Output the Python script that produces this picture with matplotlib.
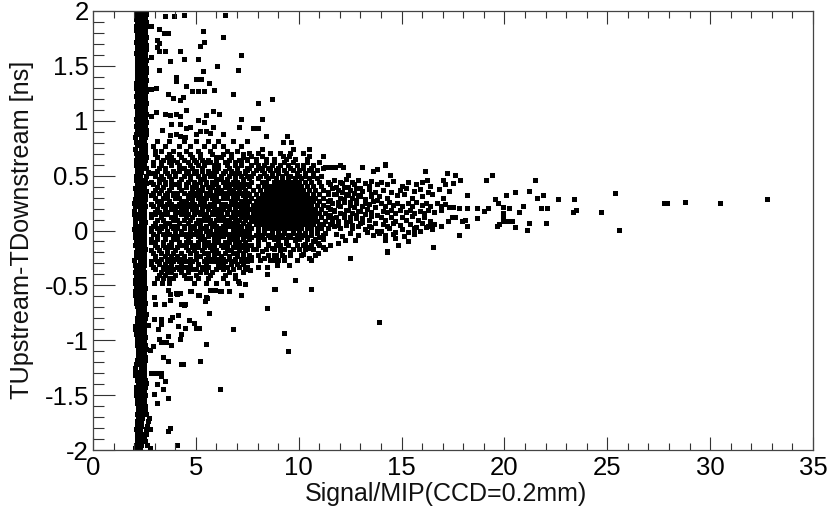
import matplotlib
matplotlib.use("Agg")
import matplotlib.pyplot as plt
from matplotlib.ticker import MultipleLocator

plt.rcParams['font.family'] = ['Liberation Sans', 'DejaVu Sans']

# bande verticale vers x = 2.3
band_y = [-1.98,-1.95,-1.92,-1.88,-1.85,-1.81,-1.78,-1.74,-1.71,-1.67,-1.64,-1.60,-1.57,-1.53,-1.50,-1.46,-1.43,-1.39,-1.36,-1.32,
          -1.29,-1.25,-1.22,-1.18,-1.15,-1.11,-1.08,-1.04,-1.01,-0.97,-0.94,-0.90,-0.87,-0.83,-0.80,-0.76,-0.73,-0.69,-0.66,-0.62,
          -0.59,-0.55,-0.52,-0.48,-0.45,-0.41,-0.38,-0.34,-0.31,-0.27,-0.24,-0.20,-0.17,-0.13,-0.10,-0.06,-0.03,0.01,0.04,0.08,
          0.11,0.15,0.18,0.22,0.25,0.29,0.32,0.36,0.39,0.43,0.46,0.50,0.53,0.57,0.60,0.64,0.67,0.71,0.74,0.78,
          0.81,0.85,0.88,0.92,0.95,0.99,1.02,1.06,1.09,1.13,1.16,1.20,1.23,1.27,1.30,1.34,1.37,1.41,1.44,1.48,
          1.51,1.55,1.58,1.62,1.65,1.69,1.72,1.76,1.79,1.83,1.86,1.90,1.93,1.97,1.99]
band_left = [2.05,2.10,2.12,2.14,2.12,2.10,2.12,2.16,2.18,2.16,2.18,2.20,2.16,2.12,2.08,2.08,2.10,2.18,2.14,2.06,
             2.04,2.06,2.10,2.16,2.18,2.20,2.18,2.14,2.12,2.16,2.08,2.04,2.06,2.12,2.16,2.20,2.18,2.12,2.10,2.08,
             2.04,2.06,2.10,2.06,2.02,2.08,2.06,2.10,2.04,2.00,2.08,2.10,2.12,2.06,2.08,2.04,2.02,2.00,2.02,2.06,
             2.04,1.98,2.00,2.02,1.98,2.06,2.08,2.10,2.06,2.12,2.08,2.10,2.14,2.12,2.08,2.10,2.12,2.08,2.06,2.12,
             2.08,2.06,2.10,2.14,2.10,2.12,2.08,2.14,2.12,2.10,2.14,2.12,2.10,2.14,2.10,2.08,2.14,2.12,2.16,2.14,
             2.12,2.14,2.12,2.08,2.12,2.14,2.10,2.14,2.12,2.08,2.10,2.14,2.10,2.12,2.08]
band_mid = [2.30,2.34,2.30,2.35,2.32,2.30,2.34,2.32,2.36,2.34,2.30,2.35,2.32,2.30,2.33,2.30,2.34,2.36,2.32,2.30,
            2.28,2.32,2.30,2.34,2.36,2.33,2.36,2.32,2.30,2.34,2.32,2.30,2.28,2.32,2.34,2.36,2.32,2.30,2.34,2.32,
            2.28,2.30,2.32,2.30,2.28,2.32,2.30,2.26,2.30,2.28,2.32,2.30,2.34,2.30,2.32,2.28,2.30,2.26,2.28,2.32,
            2.30,2.26,2.28,2.30,2.26,2.30,2.32,2.34,2.30,2.34,2.32,2.30,2.34,2.32,2.30,2.32,2.34,2.30,2.32,2.34,
            2.30,2.32,2.34,2.36,2.32,2.34,2.30,2.34,2.32,2.30,2.34,2.32,2.30,2.34,2.32,2.30,2.34,2.32,2.36,2.34,
            2.32,2.34,2.30,2.32,2.34,2.36,2.32,2.34,2.32,2.30,2.34,2.36,2.32,2.34,2.30]
band_right = [2.75,2.62,2.52,2.50,2.56,2.60,2.62,2.68,2.72,2.60,2.54,2.52,2.50,2.48,2.52,2.50,2.54,2.58,2.52,2.50,
              2.48,2.50,2.48,2.52,2.54,2.50,2.56,2.52,2.50,2.54,2.50,2.48,2.46,2.50,2.52,2.56,2.50,2.48,2.52,2.50,
              2.48,2.50,2.52,2.48,2.46,2.50,2.48,2.44,2.48,2.46,2.50,2.48,2.52,2.48,2.50,2.46,2.48,2.46,2.48,2.52,
              2.50,2.46,2.50,2.52,2.48,2.52,2.54,2.56,2.50,2.56,2.52,2.60,2.68,2.56,2.50,2.54,2.58,2.52,2.54,2.52,
              2.50,2.52,2.56,2.60,2.54,2.56,2.52,2.56,2.54,2.52,2.56,2.54,2.52,2.56,2.54,2.52,2.56,2.54,2.58,2.56,
              2.54,2.56,2.52,2.54,2.56,2.58,2.54,2.56,2.54,2.52,2.56,2.58,2.54,2.58,2.52]

# points isoles en haut (y > 0.85)
top_x = [3.52,3.94,4.42,6.42,2.80,3.21,3.44,3.65,5.33,6.34,3.13,3.21,5.40,5.20,3.11,3.21,3.48,4.21,7.21,2.80,3.73,4.42,5.12,6.03,
         3.21,5.33,7.03,4.02,4.02,5.02,5.23,5.64,4.51,2.59,2.84,3.08,4.83,5.12,5.41,5.90,3.65,3.89,4.21,4.38,6.81,8.72,8.02,4.51,
         5.83,3.04,2.84,3.52,3.73,4.02,4.21,5.51,6.13,7.21,8.21,5.12,5.41,3.81,4.21,3.35,4.53,4.73,5.83,7.11,7.76,8.03,3.73,4.02,
         4.21,4.46,5.02,5.19,5.51,5.70,6.30,8.41,9.41,9.22,9.61]
top_y = [1.95,1.95,1.96,1.96,1.86,1.84,1.80,1.80,1.82,1.76,1.74,1.71,1.72,1.68,1.67,1.64,1.64,1.64,1.60,1.58,1.54,1.56,1.56,1.50,
         1.46,1.45,1.46,1.40,1.36,1.38,1.38,1.34,1.32,1.29,1.29,1.30,1.27,1.27,1.27,1.28,1.24,1.21,1.19,1.22,1.24,1.20,1.16,1.10,
         1.09,1.08,1.04,1.06,1.05,1.06,1.04,1.05,1.06,1.02,1.02,1.01,0.99,0.97,0.97,0.92,0.93,0.94,0.94,0.94,0.93,0.93,0.87,0.88,
         0.86,0.85,0.88,0.91,0.91,0.89,0.88,0.865,0.865,0.805,0.805]

# points isoles en bas (y < -0.5)
low_x = [13.9,9.3,9.5,6.8,6.15,8.44,8.8,4.1,3.73,3.65,2.76,3.65,3.11,2.95,3.4,3.11,3.48,3.32,2.84,3.0,3.16,3.32,4.28,4.38,5.19,3.65,
         3.4,5.51,3.81,3.57,3.32,3.21,2.92,2.76,4.21,4.3,3.65,3.16,5.02,5.14,4.89,4.67,4.46,4.13,3.32,3.32,3.73,3.86,2.95,2.67,4.13,
         5.64,4.46,4.3,3.44,3.0,2.95,3.73,3.73,3.65,4.21,4.02,5.51,5.43,5.14,4.73,5.67,5.83,6.19,6.6,7.21,10.61,8.83,7.19,6.62,6.2,
         5.77,5.93,5.52,5.44,5.12,4.74,4.42,4.06,7.39]
low_y = [-0.83,-0.93,-1.10,-0.90,-1.44,-0.71,-0.53,-1.95,-1.80,-1.83,-1.81,-1.53,-1.57,-1.49,-1.44,-1.40,-1.37,-1.33,-1.30,-1.30,-1.30,-1.30,-1.22,-1.22,-1.19,-1.19,
         -1.15,-1.03,-1.04,-1.02,-1.02,-0.99,-1.05,-1.09,-0.99,-0.94,-0.96,-0.90,-0.89,-0.89,-0.84,-0.82,-0.89,-0.87,-0.81,-0.85,-0.82,-0.79,-0.81,-0.86,-0.77,
         -0.75,-0.67,-0.67,-0.67,-0.67,-0.61,-0.63,-0.58,-0.54,-0.57,-0.57,-0.61,-0.64,-0.59,-0.55,-0.54,-0.54,-0.55,-0.55,-0.59,-0.53,-0.53,-0.59,-0.55,-0.55,
         -0.54,-0.54,-0.615,-0.645,-0.59,-0.55,-0.68,-0.575,-0.49]

# queue a droite
tail_x = [14.2,14.44,16.14,17.22,17.61,17.84,17.0,16.22,19.1,19.38,21.49,18.2,20.08,20.51,21.21,21.89,21.6,22.62,23.38,25.39,19.53,19.69,19.95,20.24,20.92,20.69,
          21.79,22.09,18.68,18.2,17.81,19.22,19.0,19.91,19.91,18.68,23.32,23.48,24.68,25.59,27.76,27.89,28.78,30.47,32.77,19.62,19.72,19.95,20.14,20.37,20.51,21.08,
          21.21,22.0,17.81,16.51,14.2,14.68,14.83,14.31,15.3,15.6,18.2,18.08,17.27,17.43,17.6,17.92,
          14.0,14.3,14.6,15.0,15.3,15.7,16.0,16.4,17.1,17.5,14.1,14.5,14.9,15.2,15.6,15.9,16.3,16.8,17.3,13.9,14.3,14.8,15.1,15.5,16.0,16.5,17.0,
          14.0,14.2,14.4,14.6,14.8,15.0,15.3,15.5,15.7,16.0,16.2,16.4,16.7,16.9,17.1,17.3,17.5,14.1,14.3,14.5,14.7,14.9,15.2,15.4,15.6,15.9,16.1,16.3,16.6,16.9,
          14.0,14.2,14.5,14.7,15.0,15.2,15.5,15.8,16.1,16.4,14.1,14.3,14.6,14.9,15.4,15.7,16.0,16.3,16.6,16.9,14.0,14.4,14.7,15.0,15.3,15.6,15.9,16.2,16.5,14.2,14.6,15.1,15.6,16.3,16.5]
tail_y = [0.607,0.51,0.54,0.525,0.51,0.464,0.464,0.464,0.464,0.51,0.464,0.327,0.327,0.35,0.36,0.327,0.30,0.288,0.288,0.345,0.288,0.25,0.215,0.206,0.22,0.166,
          0.206,0.206,0.206,0.206,0.206,0.206,0.18,0.16,0.136,0.11,0.17,0.185,0.166,0.005,0.248,0.248,0.263,0.248,0.288,0.04,0.06,0.09,0.09,0.084,0.03,0.005,
          0.07,0.07,-0.037,-0.15,-0.09,-0.07,-0.135,-0.19,-0.10,-0.01,0.045,0.10,0.084,0.124,0.124,0.09,
          0.44,0.42,0.45,0.41,0.44,0.42,0.44,0.41,0.42,0.43,0.37,0.35,0.37,0.39,0.36,0.38,0.35,0.38,0.36,0.31,0.30,0.32,0.33,0.30,0.31,0.33,0.30,
          0.25,0.22,0.26,0.23,0.25,0.22,0.25,0.22,0.26,0.23,0.25,0.22,0.25,0.22,0.24,0.21,0.21,0.18,0.17,0.19,0.16,0.19,0.17,0.19,0.16,0.18,0.16,0.19,0.17,0.19,
          0.12,0.10,0.12,0.09,0.12,0.10,0.13,0.10,0.12,0.09,0.06,0.04,0.07,0.05,0.06,0.03,0.07,0.04,0.06,0.04,0.00,0.02,-0.01,0.01,-0.01,0.02,0.00,0.03,0.01,-0.04,-0.03,-0.05,-0.03,0.04,0.04]

# zone a gauche, x de 2.7 a 7.5, lignes de bas en haut
left_rows_y = [-0.48,-0.43,-0.38,-0.33,-0.28,-0.23,-0.18,-0.13,-0.08,-0.03,0.02,0.07,0.12,0.17,0.22,0.27,0.32,0.37,0.42,0.47,0.52,0.57,0.62,0.67,0.72,0.77,0.82]
left_rows_x = [[2.95,3.35,3.7,4.9,5.5,6.0,6.5,7.1],
               [3.1,3.4,3.7,3.9,4.5,4.7,5.1,5.6,6.3,6.9],
               [3.3,3.6,3.8,4.3,4.6,5.2,5.5,5.8,6.6,7.3],
               [2.9,3.4,3.7,4.1,4.4,4.6,5.3,5.6,6.2,6.5,7.1,7.5],
               [2.8,3.1,3.6,3.9,4.2,4.5,4.8,5.4,5.7,5.9,6.4,6.8,7.2,7.5],
               [3.0,3.5,3.8,4.1,4.4,5.0,5.2,5.6,5.9,6.2,6.6,7.0,7.3],
               [2.8,3.2,3.6,4.0,4.6,4.9,5.3,5.8,6.0,6.5,6.7,7.1,7.4],
               [3.0,3.4,3.7,4.2,4.4,4.8,5.0,5.5,5.7,6.2,6.4,6.9,7.2,7.5],
               [2.8,3.1,3.5,3.9,4.1,4.6,5.2,5.4,5.9,6.1,6.6,6.8,7.0,7.3],
               [2.9,3.4,3.7,4.3,4.5,4.9,5.1,5.6,5.8,6.3,6.5,6.7,7.1,7.4],
               [2.8,3.1,3.3,3.9,4.1,4.4,4.8,5.3,5.5,6.0,6.2,6.9,7.2,7.5],
               [3.0,3.5,3.7,4.2,4.6,5.0,5.2,5.7,5.9,6.4,6.6,6.8,7.0,7.3],
               [2.8,3.3,3.8,4.0,4.5,4.8,5.4,5.6,6.1,6.3,6.7,6.9,7.2,7.4],
               [3.0,3.2,3.6,4.2,4.4,4.9,5.1,5.3,5.8,6.0,6.5,6.8,7.0,7.3,7.5],
               [2.9,3.4,3.9,4.1,4.7,5.0,5.5,5.7,6.2,6.4,6.6,7.1,7.3],
               [3.1,3.3,3.7,4.3,4.5,4.8,5.2,5.4,5.9,6.1,6.7,6.9,7.2,7.4],
               [2.8,3.5,3.9,4.1,4.6,5.0,5.6,5.8,6.3,6.5,7.0,7.3,7.5],
               [3.0,3.3,3.7,4.3,4.8,5.1,5.3,5.7,6.0,6.2,6.6,6.8,7.1,7.4],
               [2.9,3.5,3.9,4.1,4.5,5.0,5.5,5.9,6.4,6.7,7.0,7.2,7.5],
               [3.2,3.4,3.8,4.3,4.7,5.2,5.4,6.0,6.2,6.5,6.9,7.3],
               [2.8,3.0,3.6,4.0,4.5,4.9,5.6,5.8,6.3,6.8,7.1,7.4],
               [3.2,3.5,4.2,4.4,4.8,5.3,5.9,6.1,6.6,7.0,7.5],
               [2.9,3.3,3.7,4.1,4.6,5.0,5.5,5.7,6.4,6.9,7.2],
               [3.1,3.6,3.8,4.3,4.8,5.2,6.0,6.2,6.7,7.3],
               [3.0,3.3,3.9,4.5,5.1,5.7,6.5,7.0],
               [2.9,3.5,4.2,4.7,5.4,5.9,6.3,7.2],
               [3.1,3.7,4.4,5.0,5.6,6.1,6.8,7.5]]

# meme zone, lignes intercalees pour casser la grille
mid_rows_y = [-0.405,-0.352,-0.306,-0.258,-0.204,-0.152,-0.106,-0.054,-0.006,0.044,0.096,0.146,0.194,0.246,0.296,0.344,0.396,0.446,0.494,0.546,0.598,0.644,0.696]
mid_rows_x = [[3.2,3.5,4.0,4.4,5.0,5.7,6.4,6.9],
              [3.0,3.5,3.9,4.2,4.8,5.0,5.4,6.0,6.3,6.8,7.4],
              [2.8,3.2,3.5,3.8,4.3,4.7,5.1,5.5,6.1,6.3,6.7,7.0,7.3],
              [3.0,3.3,3.7,4.0,4.3,4.7,5.0,5.5,5.8,6.1,6.3,6.6,6.9,7.2,7.5],
              [2.9,3.3,3.6,3.9,4.3,4.7,5.0,5.4,5.6,5.9,6.1,6.4,6.8,7.0,7.3],
              [3.1,3.5,3.8,4.1,4.5,4.8,5.1,5.4,5.7,5.9,6.3,6.5,6.8,7.0,7.3,7.5],
              [2.8,3.0,3.4,3.8,4.2,4.5,4.7,5.1,5.4,5.6,5.9,6.1,6.4,6.6,6.9,7.1,7.4],
              [3.1,3.5,3.9,4.1,4.5,4.7,5.1,5.3,5.6,5.9,6.1,6.3,6.6,6.8,7.0,7.3,7.5],
              [2.8,3.2,3.6,4.0,4.3,4.7,5.0,5.2,5.5,5.7,6.0,6.2,6.4,6.8,7.0,7.2,7.4],
              [2.9,3.3,3.5,3.8,4.0,4.4,4.7,4.9,5.2,5.5,5.8,6.0,6.3,6.5,6.7,7.0,7.2,7.5],
              [3.1,3.4,3.9,4.1,4.4,4.7,5.1,5.3,5.5,5.7,6.0,6.2,6.4,6.6,6.9,7.1,7.4],
              [2.8,3.0,3.4,3.6,4.0,4.3,4.6,4.9,5.2,5.5,5.8,6.0,6.2,6.5,6.8,7.0,7.2,7.5],
              [3.1,3.5,3.8,4.0,4.3,4.5,4.8,5.0,5.3,5.6,5.9,6.1,6.3,6.6,6.9,7.2,7.4],
              [2.8,3.2,3.6,3.8,4.2,4.4,4.6,4.9,5.2,5.4,5.7,5.9,6.2,6.4,6.7,6.9,7.1,7.3],
              [3.0,3.4,3.6,4.0,4.2,4.6,4.8,5.1,5.3,5.5,5.8,6.0,6.3,6.5,6.8,7.0,7.4],
              [2.9,3.2,3.6,3.9,4.1,4.4,4.7,4.9,5.2,5.5,5.7,6.0,6.2,6.4,6.7,6.9,7.2,7.5],
              [3.1,3.4,3.8,4.2,4.5,4.8,5.0,5.3,5.6,5.8,6.1,6.4,6.6,6.9,7.1,7.3],
              [2.8,3.2,3.5,3.8,4.2,4.6,4.9,5.2,5.5,5.8,6.0,6.3,6.5,6.8,7.0,7.3],
              [3.0,3.3,3.7,4.0,4.4,4.7,5.1,5.4,5.7,5.9,6.2,6.6,6.9,7.2,7.5],
              [3.1,3.5,3.9,4.2,4.6,5.0,5.3,5.6,6.0,6.4,6.7,7.0,7.4],
              [2.9,3.3,3.8,4.2,4.7,5.1,5.4,5.9,6.1,6.5,6.9,7.2],
              [3.4,3.9,4.4,4.9,5.3,5.6,6.0,6.6,7.1,7.5],
              [3.0,3.7,4.2,4.7,5.2,5.8,6.3,6.7,7.3]]

# centre tres dense, x de 7.5 a 11.5
core_rows_y = [-0.06,-0.02,0.02,0.055,0.09,0.125,0.16,0.195,0.23,0.265,0.30,0.335,0.37,0.405,0.44,0.48,0.52,0.57,0.62,0.68,0.74]
core_rows_x = [[7.7,8.1,8.6,8.9,9.2,9.6,10.1,10.4,11.0],
               [7.6,8.0,8.3,8.7,9.0,9.3,9.7,10.0,10.3,10.6,10.9,11.3],
               [7.7,8.0,8.3,8.5,8.7,8.9,9.1,9.3,9.5,9.7,9.9,10.1,10.4,10.6,10.9,11.1,11.4],
               [7.6,7.9,8.1,8.3,8.5,8.7,8.9,9.1,9.3,9.5,9.7,9.9,10.1,10.3,10.5,10.7,11.0,11.2,11.5],
               [7.7,7.9,8.1,8.3,8.5,8.7,8.9,9.1,9.3,9.5,9.7,9.9,10.1,10.3,10.5,10.7,10.9,11.3],
               [7.6,7.8,8.0,8.2,8.4,8.6,8.8,9.0,9.2,9.4,9.6,9.8,10.0,10.2,10.4,10.6,10.8,11.1,11.4],
               [7.5,7.8,8.0,8.2,8.4,8.6,8.8,9.0,9.2,9.4,9.6,9.8,10.0,10.2,10.4,10.6,10.8,11.0,11.3],
               [7.6,7.8,8.0,8.2,8.4,8.6,8.8,9.0,9.2,9.4,9.6,9.8,10.0,10.2,10.4,10.6,10.8,11.1,11.5],
               [7.5,7.8,8.0,8.2,8.4,8.6,8.8,9.0,9.2,9.4,9.6,9.8,10.0,10.2,10.4,10.6,10.9,11.2],
               [7.6,7.9,8.1,8.3,8.5,8.7,8.9,9.1,9.3,9.5,9.7,9.9,10.1,10.3,10.5,10.7,11.0,11.4],
               [7.7,8.0,8.2,8.4,8.6,8.8,9.0,9.2,9.4,9.6,9.8,10.0,10.2,10.4,10.6,10.8,11.2],
               [7.6,7.9,8.2,8.4,8.6,8.8,9.0,9.2,9.4,9.6,9.8,10.0,10.2,10.4,10.7,11.0,11.4],
               [7.8,8.1,8.4,8.6,8.8,9.0,9.2,9.4,9.6,9.8,10.0,10.2,10.5,10.8,11.2],
               [7.6,8.0,8.3,8.5,8.7,8.9,9.1,9.3,9.5,9.7,9.9,10.1,10.4,10.7,11.1],
               [7.7,8.2,8.4,8.8,9.0,9.2,9.4,9.6,9.8,10.0,10.3,10.6,11.0,11.4],
               [7.6,8.0,8.5,8.9,9.2,9.5,9.8,10.1,10.5,10.9],
               [7.8,8.3,8.7,9.0,9.4,9.9,10.3,10.7],
               [7.6,8.1,8.5,9.0,9.6,10.2,10.6,11.2],
               [7.9,8.4,8.8,9.3,9.7,10.4,11.0],
               [7.7,8.2,9.25,9.54,10.51],
               [8.2,9.74,10.51]]

# autour du centre, lignes au dessus et en dessous
fringe_rows_y = [-0.27,-0.22,-0.17,-0.13,-0.08,-0.04,0.50,0.55,0.60,0.65,0.71]
fringe_rows_x = [[7.7,8.1,8.6,9.0,9.3,9.9,10.6],
                 [7.6,8.0,8.5,8.8,9.2,9.6,10.1,10.8],
                 [7.5,7.9,8.4,8.8,9.3,9.7,10.3,10.7,11.3],
                 [7.7,8.0,8.5,8.9,9.1,9.5,9.9,10.2,10.6,11.0,11.5],
                 [7.6,8.0,8.3,8.8,9.0,9.4,9.8,10.0,10.4,10.8,11.2],
                 [7.5,7.9,8.2,8.5,8.7,9.1,9.5,9.9,10.2,10.6,11.2],
                 [7.7,8.1,8.4,8.7,9.2,9.6,10.0,10.3,10.7,11.1],
                 [7.5,7.9,8.2,8.6,8.9,9.3,9.7,10.0,10.5,10.9],
                 [7.7,8.0,8.3,8.7,9.1,9.5,9.9,10.2,10.7],
                 [7.5,7.9,8.4,8.8,9.4,9.8,10.4],
                 [7.6,8.0,8.6,9.1,9.6,10.2]]

# bord bas et droit du centre, points lus un par un
edge_x = [12.49,14.27,14.2,12.74,12.25,11.92,10.51,10.22,10.95,10.95,9.51,9.82,8.44,8.44,8.03,8.76,8.93,7.06,6.9,7.63,7.44,
          11.2,14.2,13.1,12.0,11.28,11.52,11.76,12.17,13.6,13.82,12.41,14.44,
          11.7,12.0,12.3,12.6,12.9,13.2,13.5,13.8,11.6,11.9,12.2,12.5,12.8,13.1,13.4,13.7,11.7,12.0,12.3,12.6,12.9,13.2,13.5,13.8,
          11.6,11.9,12.2,12.5,12.8,13.1,13.4,13.7,11.7,12.0,12.3,12.6,12.9,13.2,13.5,13.8,11.6,11.9,12.2,12.5,12.8,13.1,13.4,13.7,
          11.7,12.0,12.3,12.6,12.9,13.2,13.5,13.8,11.8,12.1,12.5,12.9,13.3,13.6,13.9,
          8.0,8.5,9.0,9.4,9.8,10.3,10.7,7.8,8.2,8.7,9.1,9.6,10.0,10.4,7.7,8.3,8.9,9.3,10.5,11.2,
          11.5,11.8,12.1,12.4,12.7,13.0,13.4,11.4,11.8,12.1,12.4,12.7,13.0,13.5,11.5,11.9,12.2,12.5,12.8,13.2,13.6,11.4,11.7,12.0,12.4,12.7,13.0,13.3,
          11.5,11.8,12.2,12.5,12.8,13.1,13.5,11.6,11.9,12.3,12.6,13.0,13.4]
edge_y = [-0.25,-0.195,-0.09,-0.09,-0.09,-0.11,-0.25,-0.21,-0.205,-0.11,-0.31,-0.45,-0.33,-0.40,-0.33,-0.265,-0.31,-0.46,-0.41,-0.36,-0.28,
          0.68,0.60,0.58,0.60,0.58,0.58,0.58,0.58,0.54,0.56,0.51,0.51,
          0.46,0.44,0.47,0.44,0.46,0.43,0.45,0.42,0.39,0.37,0.40,0.37,0.39,0.36,0.38,0.35,0.33,0.30,0.33,0.30,0.32,0.29,0.31,0.28,
          0.25,0.23,0.26,0.23,0.25,0.22,0.24,0.21,0.18,0.16,0.19,0.16,0.18,0.15,0.17,0.14,0.11,0.09,0.12,0.09,0.11,0.08,0.10,0.07,
          0.04,0.02,0.05,0.02,0.04,0.01,0.03,0.00,-0.03,-0.05,-0.02,-0.04,-0.01,-0.04,-0.02,
          -0.10,-0.12,-0.09,-0.11,-0.09,-0.12,-0.10,-0.17,-0.19,-0.16,-0.18,-0.20,-0.17,-0.15,-0.24,-0.25,-0.22,-0.24,-0.16,-0.15,
          0.42,0.40,0.43,0.40,0.42,0.39,0.41,0.35,0.33,0.35,0.32,0.34,0.31,0.33,0.28,0.26,0.29,0.26,0.28,0.25,0.27,0.21,0.19,0.22,0.19,0.21,0.18,0.20,
          0.14,0.12,0.15,0.12,0.14,0.11,0.13,0.07,0.05,0.08,0.05,0.07,0.04]

xs = band_left + band_mid + band_right + top_x + low_x + tail_x + edge_x
ys = band_y + band_y + band_y + top_y + low_y + tail_y + edge_y
for rows_y, rows_x in [(left_rows_y, left_rows_x), (mid_rows_y, mid_rows_x), (core_rows_y, core_rows_x), (fringe_rows_y, fringe_rows_x)]:
    for y, row in zip(rows_y, rows_x):
        xs += row
        ys += [y] * len(row)

fig = plt.figure(figsize=(8.28, 5.07), dpi=100)
ax = fig.add_axes([93 / 828, 1 - 450 / 507, 720 / 828, 439 / 507])
# scatter plutot que plot : plot cale les marqueurs sur les pixels et laisse des trous
ax.scatter(xs, ys, marker='s', s=13, linewidths=0, color='black', snap=False, antialiased=False)

ax.set_xlim(0, 35)
ax.set_ylim(-2, 2)
ax.xaxis.set_major_locator(MultipleLocator(5))
ax.xaxis.set_minor_locator(MultipleLocator(1))
ax.yaxis.set_major_locator(MultipleLocator(0.5))
ax.yaxis.set_minor_locator(MultipleLocator(0.1))
ax.xaxis.set_major_formatter(lambda v, p: f"{v:g}")
ax.yaxis.set_major_formatter(lambda v, p: f"{v:g}")

ax.tick_params(axis='x', which='major', direction='in', length=9.5, width=0.8, top=True, labelsize=18.5, pad=4, color='#333333')
ax.tick_params(axis='x', which='minor', direction='in', length=5, width=0.8, top=True, color='#333333')
ax.tick_params(axis='y', which='major', direction='in', length=16, width=0.8, labelsize=18.5, pad=3, color='#333333')
ax.tick_params(axis='y', which='minor', direction='in', length=8, width=0.8, color='#333333')
for side in ax.spines.values():
    side.set_linewidth(0.9)
    side.set_color('#444444')

fig.text(446 / 828, 1 - 494 / 507, "Signal/MIP(CCD=0.2mm)", ha='center', va='center', fontsize=18, color='#111111')
fig.text(22 / 828, 1 - 230 / 507, "TUpstream-TDownstream [ns]", ha='center', va='center', rotation=90, fontsize=18.2, color='#111111')

fig.savefig("out.png", dpi=100)
